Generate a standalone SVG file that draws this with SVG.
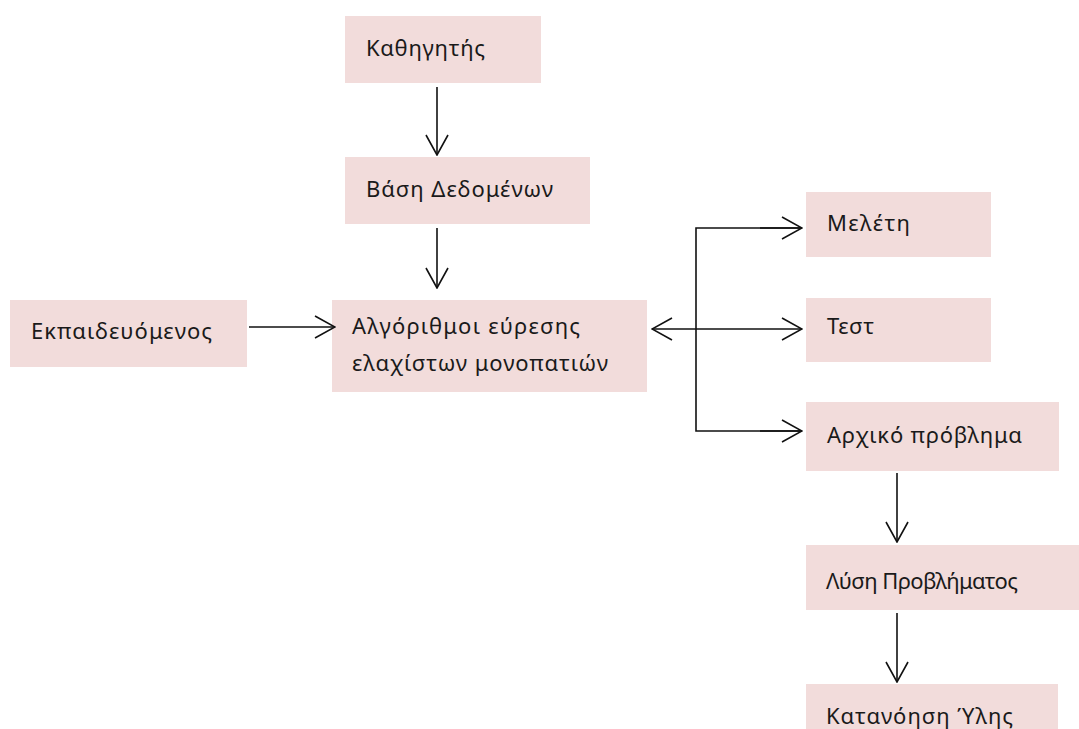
<svg xmlns="http://www.w3.org/2000/svg" width="1079" height="729" viewBox="0 0 1079 729">
  <style>
    .box { fill: #f2dcdb; }
    .lbl { font-family: "Noto Sans", "Open Sans", "DejaVu Sans", sans-serif; font-size: 22px; fill: #1a1a1a; }
    .wire { fill: none; stroke: #111; stroke-width: 1.6; }
  </style>
  <defs>
    <marker id="open" viewBox="0 0 22 24" refX="21" refY="12" markerWidth="22" markerHeight="24" markerUnits="userSpaceOnUse" orient="auto-start-reverse">
      <path d="M1,1 L21,12 L1,23" fill="none" stroke="#111" stroke-width="1.6"/>
    </marker>
  </defs>
  <rect width="1079" height="729" fill="#ffffff"/>

  <g id="kathigitis">
    <rect class="box" x="345" y="16" width="196" height="67"/>
    <text class="lbl" x="366" y="56" textLength="119" lengthAdjust="spacing">Καθηγητής</text>
  </g>
  <g id="vasi-dedomenon">
    <rect class="box" x="345" y="157" width="245" height="67"/>
    <text class="lbl" x="366" y="197" textLength="187" lengthAdjust="spacing">Βάση Δεδομένων</text>
  </g>
  <g id="ekpaideuomenos">
    <rect class="box" x="10" y="300" width="237" height="67"/>
    <text class="lbl" x="31" y="339" textLength="181" lengthAdjust="spacing">Εκπαιδευόμενος</text>
  </g>
  <g id="algorithmoi">
    <rect class="box" x="332" y="300" width="315" height="92"/>
    <text class="lbl" x="352" y="334" textLength="228" lengthAdjust="spacing">Αλγόριθμοι εύρεσης</text>
    <text class="lbl" x="352" y="371" textLength="256" lengthAdjust="spacing">ελαχίστων μονοπατιών</text>
  </g>
  <g id="meleti">
    <rect class="box" x="806" y="192" width="185" height="65"/>
    <text class="lbl" x="827" y="231" textLength="83" lengthAdjust="spacing">Μελέτη</text>
  </g>
  <g id="test">
    <rect class="box" x="806" y="298" width="185" height="64"/>
    <text class="lbl" x="827" y="334" textLength="47" lengthAdjust="spacing">Τεστ</text>
  </g>
  <g id="arxiko-provlima">
    <rect class="box" x="806" y="402" width="253" height="69"/>
    <text class="lbl" x="827" y="443" textLength="195" lengthAdjust="spacing">Αρχικό πρόβλημα</text>
  </g>
  <g id="lysi-provlimatos">
    <rect class="box" x="806" y="545" width="273" height="65"/>
    <text class="lbl" x="826" y="589" textLength="192" lengthAdjust="spacing">Λύση Προβλήματος</text>
  </g>
  <g id="katanoisi-ylis">
    <rect class="box" x="806" y="684" width="252" height="45"/>
    <text class="lbl" x="826" y="724" textLength="187" lengthAdjust="spacing">Κατανόηση Ύλης</text>
  </g>

  <g id="connectors">
    <line class="wire" x1="437" y1="87" x2="437" y2="155" marker-end="url(#open)"/>
    <line class="wire" x1="437" y1="228" x2="437" y2="288" marker-end="url(#open)"/>
    <line class="wire" x1="249" y1="327" x2="335" y2="327" marker-end="url(#open)"/>
    <line class="wire" x1="652" y1="329" x2="802" y2="329" marker-start="url(#open)" marker-end="url(#open)"/>
    <polyline class="wire" points="802,228 696,228 696,431 802,431"/>
    <line class="wire" x1="760" y1="228" x2="802" y2="228" marker-end="url(#open)"/>
    <line class="wire" x1="760" y1="431" x2="802" y2="431" marker-end="url(#open)"/>
    <line class="wire" x1="897" y1="473" x2="897" y2="542" marker-end="url(#open)"/>
    <line class="wire" x1="897" y1="613" x2="897" y2="682" marker-end="url(#open)"/>
  </g>
</svg>
